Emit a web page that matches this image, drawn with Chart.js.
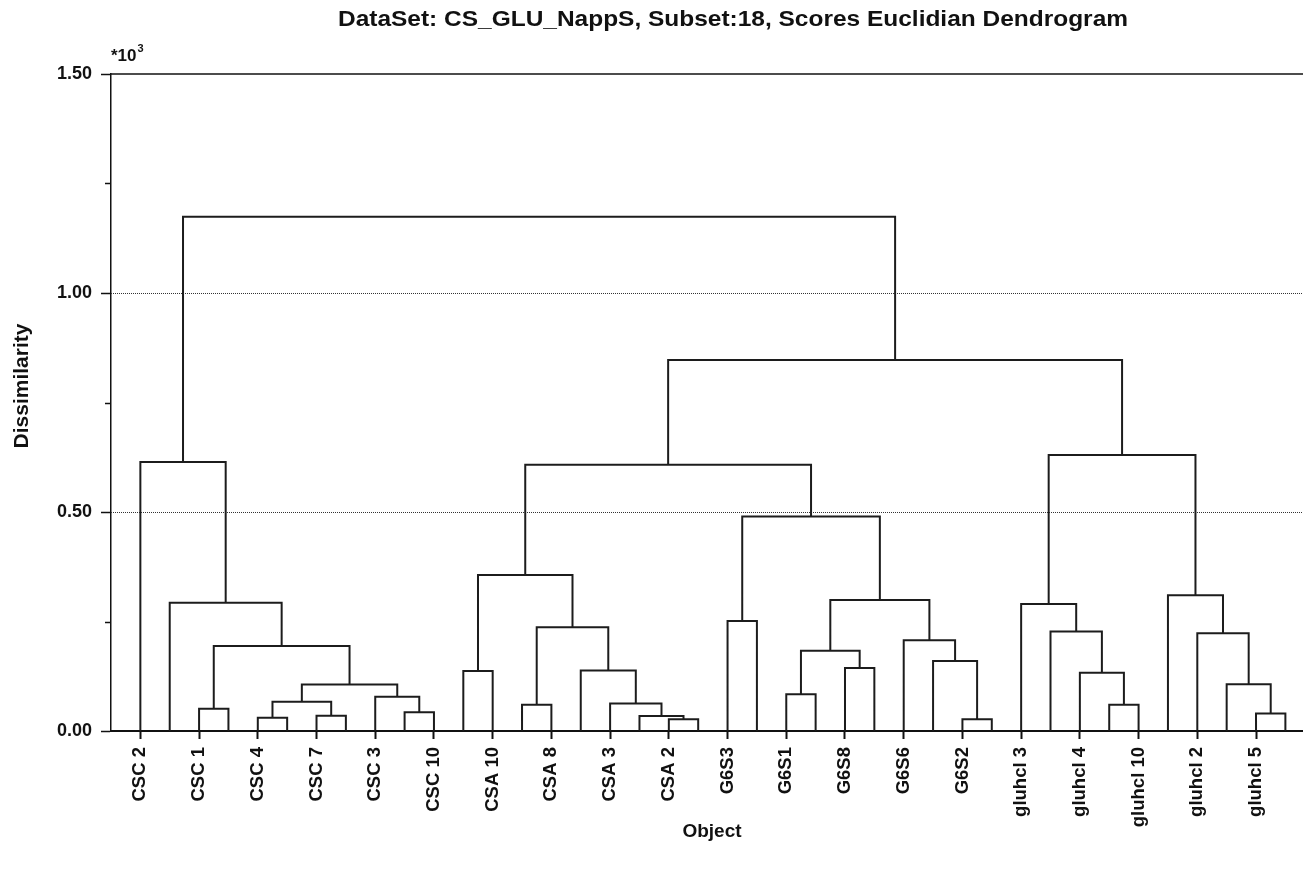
<!DOCTYPE html>
<html>
<head>
<meta charset="utf-8">
<title>Scores Euclidian Dendrogram</title>
<script src="https://cdn.jsdelivr.net/npm/chart.js@4.4.1/dist/chart.umd.min.js"></script>
<style>
  html, body { margin: 0; padding: 0; background: #fff; overflow: hidden; }
</style>
</head>
<body>
<canvas id="canvas" width="1303" height="873"></canvas>
<script>
// 40 leaves, only every other leaf carries a label
const leafCount = 40;
const leafLabels = ['CSC 2', 'CSC 1', 'CSC 4', 'CSC 7', 'CSC 3', 'CSC 10',
    'CSA 10', 'CSA 8', 'CSA 3', 'CSA 2',
    'G6S3', 'G6S1', 'G6S8', 'G6S6', 'G6S2',
    'gluhcl 3', 'gluhcl 4', 'gluhcl 10', 'gluhcl 2', 'gluhcl 5'];

// linkage rows: ids < 40 are leaves, id 40 + k is the cluster made in row k
const mergeLeft = [2, 4, 6, 41, 9, 8, 43, 40, 1, 0,
    11, 13, 18, 17, 16, 15, 51, 50,
    20, 22, 24, 59, 28, 27, 26, 61, 58, 57,
    33, 32, 31, 30, 38, 37, 36, 35, 71, 67, 49];
const mergeRight = [3, 5, 7, 42, 10, 44, 45, 46, 47, 48,
    12, 14, 19, 52, 53, 54, 55, 56,
    21, 23, 25, 60, 29, 62, 63, 64, 65, 66,
    34, 68, 69, 70, 39, 72, 73, 74, 75, 76, 77];
const mergeHeight = [0.051, 0.030, 0.035, 0.067, 0.043, 0.078, 0.106, 0.194, 0.293, 0.614,
    0.137, 0.060, 0.027, 0.034, 0.063, 0.138, 0.237, 0.356,
    0.251, 0.084, 0.144, 0.183, 0.027, 0.160, 0.207, 0.299, 0.490, 0.608,
    0.060, 0.133, 0.227, 0.290, 0.040, 0.107, 0.223, 0.310, 0.630, 0.847, 1.174];

const yTicks = [0, 0.5, 1.0, 1.5];
const yMinorTicks = [0.25, 0.75, 1.25];
const yGridLines = [0.5, 1.0];

const fontFamily = "'Liberation Sans', Arial, Helvetica, sans-serif";
const ink = '#111';
const titleText = 'DataSet: CS_GLU_NappS, Subset:18, Scores Euclidian Dendrogram';

// walk the linkage and turn every merge into a U shape
const nodeX = [];
const nodeH = [];
for (let i = 0; i < leafCount; i++) {
    nodeX.push(i);
    nodeH.push(0);
}
const segments = [];
mergeHeight.forEach(function (h, k) {
    const a = mergeLeft[k];
    const b = mergeRight[k];
    segments.push({x: nodeX[a], y: nodeH[a]});
    segments.push({x: nodeX[a], y: h});
    segments.push({x: nodeX[b], y: h});
    segments.push({x: nodeX[b], y: nodeH[b]});
    segments.push({x: nodeX[b], y: null});
    nodeX.push((nodeX[a] + nodeX[b]) / 2);
    nodeH.push(h);
});

const decor = {
    id: 'decor',
    beforeDatasetsDraw: function (chart) {
        // dotted reference lines
        const ctx = chart.ctx;
        const area = chart.chartArea;
        const yScale = chart.scales.y;
        ctx.save();
        ctx.strokeStyle = '#333';
        ctx.lineWidth = 1;
        ctx.setLineDash([1, 1]);
        yGridLines.forEach(function (v) {
            const py = Math.round(yScale.getPixelForValue(v)) + 0.5;
            ctx.beginPath();
            ctx.moveTo(area.left, py);
            ctx.lineTo(area.right, py);
            ctx.stroke();
        });
        ctx.restore();
    },
    afterDraw: function (chart) {
        const ctx = chart.ctx;
        const area = chart.chartArea;
        const yScale = chart.scales.y;
        ctx.save();
        ctx.strokeStyle = ink;
        ctx.fillStyle = ink;

        // frame line on top
        ctx.lineWidth = 1.5;
        ctx.beginPath();
        ctx.moveTo(area.left, area.top);
        ctx.lineTo(area.right, area.top);
        ctx.stroke();

        // minor ticks
        yMinorTicks.forEach(function (v) {
            const py = Math.round(yScale.getPixelForValue(v)) + 0.5;
            ctx.beginPath();
            ctx.moveTo(area.left - 6, py);
            ctx.lineTo(area.left, py);
            ctx.stroke();
        });

        ctx.textBaseline = 'middle';
        ctx.textAlign = 'center';

        // title is a bit wide for its height in the original
        ctx.save();
        ctx.font = 'bold 22.5px ' + fontFamily;
        const tw = ctx.measureText(titleText).width;
        ctx.translate(733, 20);
        ctx.scale(790 / tw, 1);
        ctx.fillText(titleText, 0, 0);
        ctx.restore();

        ctx.font = 'bold 19px ' + fontFamily;
        ctx.fillText('Object', 712, 832);

        ctx.save();
        ctx.translate(22, 386);
        ctx.rotate(-Math.PI / 2);
        ctx.font = 'bold 21px ' + fontFamily;
        ctx.fillText('Dissimilarity', 0, 0);
        ctx.restore();

        ctx.textAlign = 'left';
        ctx.font = 'bold 17px ' + fontFamily;
        ctx.fillText('*10', 111, 56);
        const w = ctx.measureText('*10').width;
        ctx.font = 'bold 11px ' + fontFamily;
        ctx.fillText('3', 111 + w + 1, 49);
        ctx.restore();
    }
};

const config = {
    type: 'scatter',
    data: {
        datasets: [{
            data: segments,
            showLine: true,
            spanGaps: false,
            borderColor: '#1c1c1c',
            borderWidth: 2,
            pointRadius: 0,
            pointHoverRadius: 0,
            fill: false
        }]
    },
    options: {
        responsive: false,
        animation: false,
        events: [],
        layout: {padding: {top: 74, right: 0, left: 0, bottom: 0}},
        plugins: {
            legend: {display: false},
            tooltip: {enabled: false},
            title: {display: false}
        },
        scales: {
            x: {
                type: 'linear',
                min: -1,
                max: 39.6,
                afterBuildTicks: function (scale) {
                    scale.ticks = leafLabels.map(function (l, i) {
                        return {value: i * 2};
                    });
                },
                afterFit: function (scale) {
                    scale.height = 142;
                    scale.paddingLeft = 0;
                    scale.paddingRight = 0;
                },
                ticks: {
                    autoSkip: false,
                    minRotation: 90,
                    maxRotation: 90,
                    padding: 8,
                    color: ink,
                    font: {family: fontFamily, size: 18.5, weight: 'bold'},
                    callback: function (value, index) {
                        return leafLabels[index];
                    }
                },
                grid: {
                    drawOnChartArea: false,
                    tickLength: 8,
                    tickColor: ink,
                    tickWidth: 2
                },
                border: {color: ink, width: 2}
            },
            y: {
                min: 0,
                max: 1.5,
                afterBuildTicks: function (scale) {
                    scale.ticks = yTicks.map(function (v) {
                        return {value: v};
                    });
                },
                afterFit: function (scale) {
                    scale.width = 111;
                    scale.paddingTop = 0;
                    scale.paddingBottom = 0;
                },
                ticks: {
                    padding: 9,
                    color: ink,
                    font: {family: fontFamily, size: 18, weight: 'bold'},
                    callback: function (value) {
                        return value.toFixed(2);
                    }
                },
                grid: {
                    drawOnChartArea: false,
                    tickLength: 10,
                    tickColor: ink,
                    tickWidth: 1.5
                },
                border: {color: ink, width: 1.5}
            }
        }
    },
    plugins: [decor]
};

const chart = new Chart(document.getElementById('canvas').getContext('2d'), config);
</script>
</body>
</html>
